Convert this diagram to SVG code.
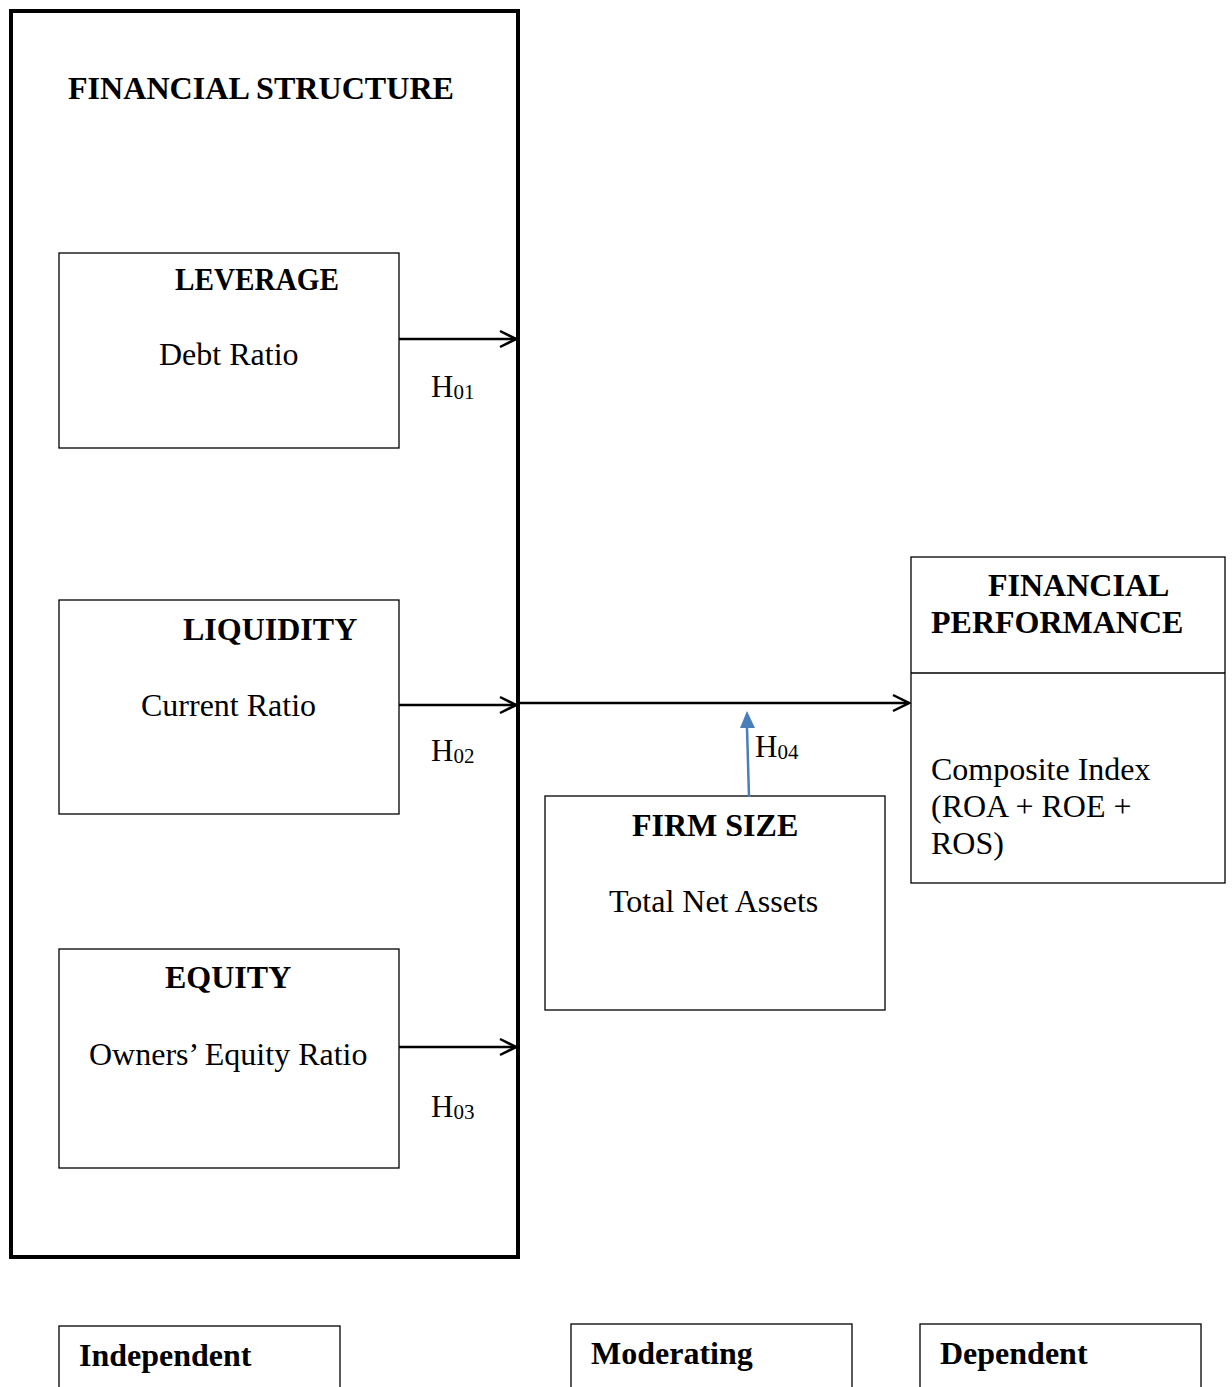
<svg xmlns="http://www.w3.org/2000/svg" width="1232" height="1387" viewBox="0 0 1232 1387">
<style>
.box{fill:#fff;stroke:#000;stroke-width:1.3}
.t{font-family:"Liberation Serif","Times New Roman",serif;fill:#000}
.b{font-weight:bold;font-size:32px}
.r{font-size:32px}
.h{font-size:31px}
.sub{font-size:21px}
.con{stroke:#000;stroke-width:2.5;fill:none}
</style>
<defs>
<marker id="open" markerWidth="20" markerHeight="20" refX="18" refY="10" orient="auto" markerUnits="userSpaceOnUse">
<path d="M2,2 L18,10 L2,18" fill="none" stroke="#000" stroke-width="2.5"/>
</marker>
</defs>
<g id="financial-structure">
<rect x="11" y="11" width="507" height="1246" fill="#fff" stroke="#000" stroke-width="4"/>
<text class="t b" x="68" y="99" textLength="386" lengthAdjust="spacingAndGlyphs">FINANCIAL STRUCTURE</text>
</g>
<g id="leverage">
<rect class="box" x="59" y="253" width="340" height="195"/>
<text class="t b" x="175" y="290" textLength="164" lengthAdjust="spacingAndGlyphs">LEVERAGE</text>
<text class="t r" x="159" y="365">Debt Ratio</text>
</g>
<g id="liquidity">
<rect class="box" x="59" y="600" width="340" height="214"/>
<text class="t b" x="183" y="640">LIQUIDITY</text>
<text class="t r" x="141" y="716">Current Ratio</text>
</g>
<g id="equity">
<rect class="box" x="59" y="949" width="340" height="219"/>
<text class="t b" x="165" y="988">EQUITY</text>
<text class="t r" x="89" y="1065">Owners’ Equity Ratio</text>
</g>
<g id="firm-size">
<rect class="box" x="545" y="796" width="340" height="214"/>
<text class="t b" x="632" y="836">FIRM SIZE</text>
<text class="t r" x="609" y="912">Total Net Assets</text>
</g>
<g id="financial-performance">
<rect class="box" x="911" y="557" width="314" height="326"/>
<line x1="911" y1="673" x2="1225" y2="673" stroke="#000" stroke-width="1.3"/>
<text class="t b" x="988" y="596">FINANCIAL</text>
<text class="t b" x="931" y="633">PERFORMANCE</text>
<text class="t r" x="931" y="780">Composite Index</text>
<text class="t r" x="931" y="817">(ROA + ROE +</text>
<text class="t r" x="931" y="854">ROS)</text>
</g>
<g id="connectors">
<line class="con" x1="399" y1="339" x2="516" y2="339" marker-end="url(#open)"/>
<line class="con" x1="399" y1="705" x2="516" y2="705" marker-end="url(#open)"/>
<line class="con" x1="399" y1="1047" x2="516" y2="1047" marker-end="url(#open)"/>
<line class="con" x1="519" y1="703" x2="909" y2="703" marker-end="url(#open)"/>
<line x1="749" y1="797" x2="747" y2="728" stroke="#4a7ebb" stroke-width="2.5"/>
<path d="M740,728 L747,711 L755,728 Z" fill="#4a7ebb"/>
<text class="t h" x="431" y="397">H<tspan class="sub" dy="2">01</tspan></text>
<text class="t h" x="431" y="761">H<tspan class="sub" dy="2">02</tspan></text>
<text class="t h" x="431" y="1117">H<tspan class="sub" dy="2">03</tspan></text>
<text class="t h" x="755" y="757">H<tspan class="sub" dy="2">04</tspan></text>
</g>
<g id="legend-independent">
<rect class="box" x="59" y="1326" width="281" height="70"/>
<text class="t b" x="79" y="1366">Independent</text>
</g>
<g id="legend-moderating">
<rect class="box" x="571" y="1324" width="281" height="70"/>
<text class="t b" x="591" y="1364">Moderating</text>
</g>
<g id="legend-dependent">
<rect class="box" x="920" y="1324" width="281" height="70"/>
<text class="t b" x="940" y="1364">Dependent</text>
</g>
</svg>
